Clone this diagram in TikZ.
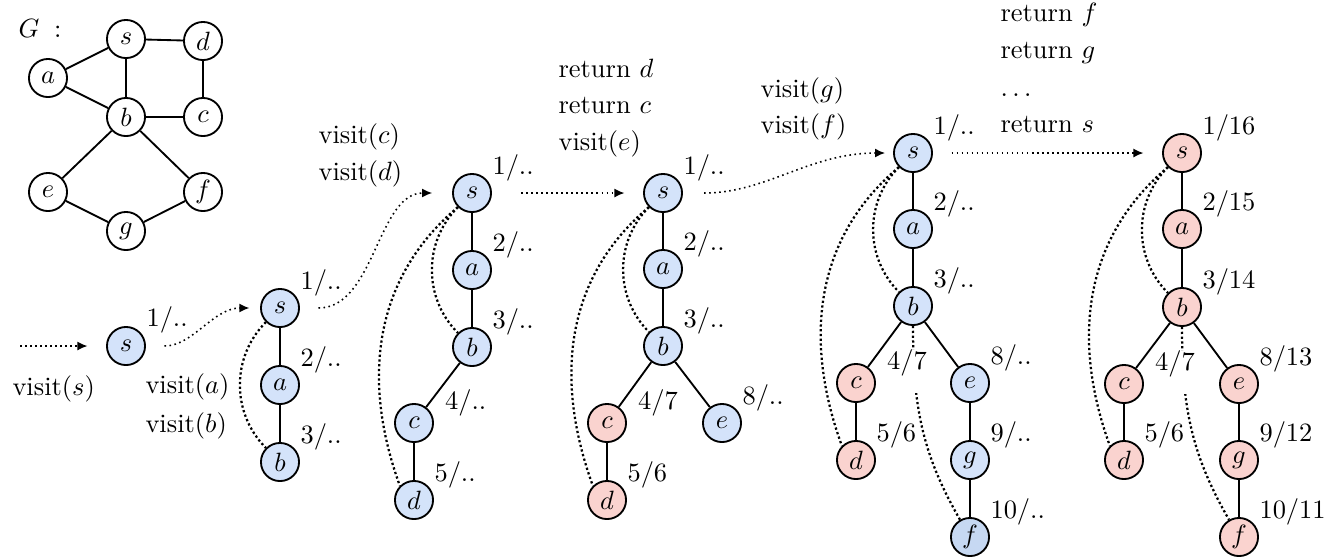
\documentclass[tikz,border=0pt]{standalone}
\usetikzlibrary{arrows.meta,calc}
\definecolor{nblue}{RGB}{212,227,250}
\definecolor{nblued}{RGB}{198,216,242}
\definecolor{nred}{RGB}{250,211,207}
\begin{document}
\begin{tikzpicture}[x=0.378pt,y=0.378pt,
  vx/.style={circle, draw, line width=0.7pt, minimum size=14.4pt, inner sep=0pt},
  bl/.style={vx, fill=nblue},
  rd/.style={vx, fill=nred},
  tr/.style={line width=0.7pt},
  back/.style={line width=0.85pt, dash pattern=on 0.85pt off 0.95pt},
  call/.style={line width=0.6pt, dash pattern=on 0.6pt off 1.3pt, -{Latex[length=3.8pt,width=3.4pt]}},
  lb/.style={anchor=west, inner sep=0pt},
  lbw/.style={anchor=north west, inner xsep=1pt, inner ysep=0pt, fill=white, text height=7.5pt, text depth=9pt},
  tx/.style={anchor=base west, inner sep=0pt}
]
\useasboundingbox (0,0) rectangle (1327,-556);

% ---------- graph G ----------
\node[tx] (Glbl) at (18,-37) {$G\;:$};
\node[vx] (gs) at (126,-39) {$s$};
\node[vx] (gd) at (203,-41) {$d$};
\node[vx] (ga) at (48,-78) {$a$};
\node[vx] (gb) at (126,-117) {$b$};
\node[vx] (gc) at (203,-117) {$c$};
\node[vx] (ge) at (48,-192) {$e$};
\node[vx] (gf) at (203,-192) {$f$};
\node[vx] (gg) at (126,-231) {$g$};
\draw[tr] (gs) -- (ga) (gs) -- (gb) (gs) -- (gd) (ga) -- (gb) (gb) -- (gc)
          (gd) -- (gc) (gb) -- (ge) (gb) -- (gf) (ge) -- (gg) (gg) -- (gf);

% ---------- stage 0 ----------
\coordinate (in0) at (20,-346);
\node[bl] (s0) at (126,-346) {$s$};
\draw[call, shorten >=7pt] (in0) -- (s0);
\node[tx] (t0) at (12,-395) {visit$(s)$};

% ---------- stage 1 ----------
\node[bl] (s1) at (280,-308) {$s$};
\node[bl] (a1) at (280,-385) {$a$};
\node[bl] (b1) at (280,-462) {$b$};
\draw[tr] (s1) -- (a1) -- (b1);
\draw[back] (s1) to[bend right=45] (b1);
\draw[call, shorten <=7pt, shorten >=4pt] (s0) to[out=0,in=180] (s1);
\node[tx] (t1a) at (145,-393) {visit$(a)$};
\node[tx] (t1b) at (145,-432) {visit$(b)$};

% ---------- stage 2 ----------
\node[bl] (s2) at (472,-193) {$s$};
\node[bl] (a2) at (472,-270) {$a$};
\node[bl] (b2) at (472,-347) {$b$};
\node[bl] (c2) at (414,-423) {$c$};
\node[bl] (d2) at (414,-500) {$d$};
\draw[tr] (s2) -- (a2) -- (b2) -- (c2) -- (d2);
\draw[back] (s2) to[bend right=45] (b2);
\draw[back] (s2.south west) to[out=-140,in=110] (d2.north west);
\draw[call, shorten <=7pt, shorten >=7.5pt] (s1) to[out=0,in=180] (s2);
\node[tx] (t2c) at (318,-143) {visit$(c)$};
\node[tx] (t2d) at (318,-180) {visit$(d)$};

% ---------- stage 3 ----------
\node[bl] (s3) at (663,-193) {$s$};
\node[bl] (a3) at (663,-269) {$a$};
\node[bl] (b3) at (663,-346) {$b$};
\node[rd] (c3) at (607,-423) {$c$};
\node[bl] (e3) at (722,-423) {$e$};
\node[rd] (d3) at (607,-500) {$d$};
\draw[tr] (s3) -- (a3) -- (b3) -- (c3) -- (d3) (b3) -- (e3);
\draw[back] (s3) to[bend right=45] (b3);
\draw[back] (s3.south west) to[out=-140,in=110] (d3.north west);
\draw[call, shorten <=11pt, shorten >=7pt] (s2) -- (s3);
\node[tx] (t3a) at (558,-77) {return $d$};
\node[tx] (t3b) at (558,-113) {return $c$};
\node[tx] (t3c) at (558,-150) {visit$(e)$};

% ---------- stage 4 ----------
\node[bl] (s4) at (913,-153) {$s$};
\node[bl] (a4) at (913,-229) {$a$};
\node[bl] (b4) at (913,-306) {$b$};
\node[rd] (c4) at (856,-383) {$c$};
\node[bl] (e4) at (970,-383) {$e$};
\node[rd] (d4) at (856,-460) {$d$};
\node[bl] (g4) at (970,-460) {$g$};
\node[vx, fill=nblued] (f4) at (970,-537) {$f$};
\draw[tr] (s4) -- (a4) -- (b4) -- (c4) -- (d4) (b4) -- (e4) -- (g4) -- (f4);
\draw[back] (s4) to[bend right=45] (b4);
\draw[back] (s4.south west) to[out=-140,in=110] (d4.north west);
\draw[back] (b4) to[out=-90,in=120] (f4);
\draw[call, shorten <=8pt, shorten >=3pt] (s3) to[out=0,in=180] (s4);
\node[tx] (t4a) at (760,-97) {visit$(g)$};
\node[tx] (t4b) at (760,-133) {visit$(f)$};

% ---------- stage 5 ----------
\node[rd] (s5) at (1182,-153) {$s$};
\node[rd] (a5) at (1182,-229) {$a$};
\node[rd] (b5) at (1182,-307) {$b$};
\node[rd] (c5) at (1124,-384) {$c$};
\node[rd] (e5) at (1239,-384) {$e$};
\node[rd] (d5) at (1124,-460) {$d$};
\node[rd] (g5) at (1239,-460) {$g$};
\node[rd] (f5) at (1239,-537) {$f$};
\draw[tr] (s5) -- (a5) -- (b5) -- (c5) -- (d5) (b5) -- (e5) -- (g5) -- (f5);
\draw[back] (s5) to[bend right=45] (b5);
\draw[back] (s5.south west) to[out=-140,in=110] (d5.north west);
\draw[back] (b5) to[out=-90,in=120] (f5);
\draw[call, shorten <=7pt, shorten >=7pt] (s4) -- (s5);
\node[tx] (t5a) at (1000,-21) {return $f$};
\node[tx] (t5b) at (1000,-58) {return $g$};
\node[tx] (t5c) at (1000,-96) {$\dots$};
\node[tx] (t5d) at (1000,-132) {return $s$};

% ---------- time stamps ----------
\node[lb] (l0) at ($(s0)+(20,26)$) {1/..};
\node[lb] (l1s) at ($(s1)+(20,25)$) {1/..};
\node[lb] (l1a) at ($(a1)+(20,25)$) {2/..};
\node[lb] (l1b) at ($(b1)+(20,25)$) {3/..};
\node[lb] (l2s) at ($(s2)+(20,25)$) {1/..};
\node[lb] (l2a) at ($(a2)+(20,25)$) {2/..};
\node[lb] (l2b) at ($(b2)+(20,25)$) {3/..};
\node[lbw] (l2c) at ($(c2)+(28,34)$) {4/..};
\node[lb] (l2d) at ($(d2)+(20,25)$) {5/..};
\node[lb] (l3s) at ($(s3)+(20,25)$) {1/..};
\node[lb] (l3a) at ($(a3)+(20,25)$) {2/..};
\node[lb] (l3b) at ($(b3)+(20,25)$) {3/..};
\node[lbw] (l3c) at ($(c3)+(28,34)$) {4/7};
\node[lb] (l3e) at ($(e3)+(20,25)$) {8/..};
\node[lb] (l3d) at ($(d3)+(20,25)$) {5/6};
\node[lb] (l4s) at ($(s4)+(20,25)$) {1/..};
\node[lb] (l4a) at ($(a4)+(20,25)$) {2/..};
\node[lb] (l4b) at ($(b4)+(20,25)$) {3/..};
\node[lbw] (l4c) at ($(c4)+(28,34)$) {4/7};
\node[lb] (l4e) at ($(e4)+(20,25)$) {8/..};
\node[lb] (l4d) at ($(d4)+(20,25)$) {5/6};
\node[lb] (l4g) at ($(g4)+(20,25)$) {9/..};
\node[lb] (l4f) at ($(f4)+(20,25)$) {10/..};
\node[lb] (l5s) at ($(s5)+(20,25)$) {1/16};
\node[lb] (l5a) at ($(a5)+(20,25)$) {2/15};
\node[lb] (l5b) at ($(b5)+(20,25)$) {3/14};
\node[lbw] (l5c) at ($(c5)+(28,34)$) {4/7};
\node[lb] (l5e) at ($(e5)+(20,25)$) {8/13};
\node[lb] (l5d) at ($(d5)+(20,25)$) {5/6};
\node[lb] (l5g) at ($(g5)+(20,25)$) {9/12};
\node[lb] (l5f) at ($(f5)+(20,25)$) {10/11};
\end{tikzpicture}
\end{document}
